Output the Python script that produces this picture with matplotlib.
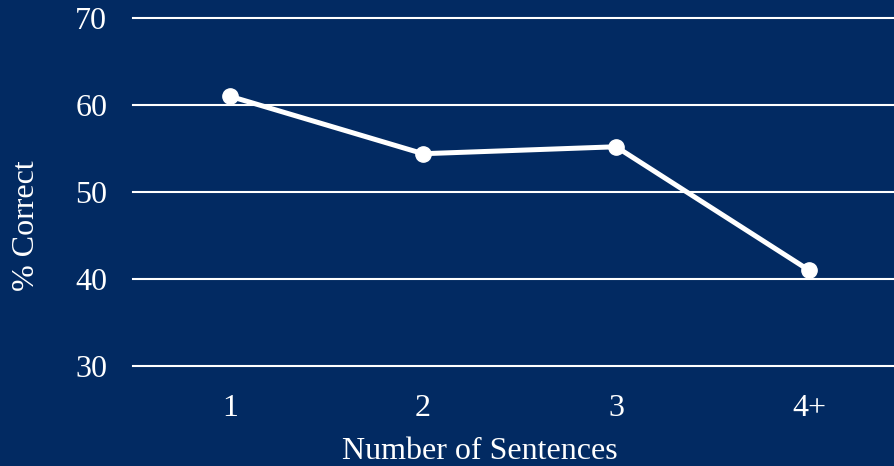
import matplotlib
matplotlib.use("Agg")
import matplotlib.pyplot as plt

categories = ["1", "2", "3", "4+"]
values = [61.0, 54.4, 55.2, 41.0]
yticks = [30, 40, 50, 60, 70]

bg = "#022a62"
plt.rcParams['font.family'] = ['Liberation Serif', 'DejaVu Serif']

W, H = 894, 466
fig = plt.figure(figsize=(W / 100, H / 100), dpi=100, facecolor=bg)
ax = fig.add_axes([133 / W, 100 / H, 1 - 133 / W, 348 / H], facecolor=bg)

x = list(range(1, len(categories) + 1))
ax.plot(x, values, color="white", lw=3.6, marker="o", markersize=11, zorder=3, clip_on=False)

ax.set_xlim(0.497, 4.44)
ax.set_ylim(30, 70)
ax.set_yticks(yticks)
ax.set_xticks(x)
ax.set_xticklabels(categories)
for s in ax.spines.values():
    s.set_visible(False)
ax.tick_params(axis="both", length=0, colors="white", labelsize=23)
ax.tick_params(axis="y", pad=18.5)
ax.tick_params(axis="x", pad=20.5)
for yv in yticks:
    ax.axhline(yv, color="white", lw=1.5, zorder=1, clip_on=False)

fig.text(480 / W, 1 - 459 / H, "Number of Sentences", color="white", fontsize=23,
         ha="center", va="baseline")
fig.text(27 / W, 1 - 226 / H, "% Correct", color="white", fontsize=23,
         ha="center", va="center", rotation=90)

fig.savefig("out.png", dpi=100, facecolor=bg)
